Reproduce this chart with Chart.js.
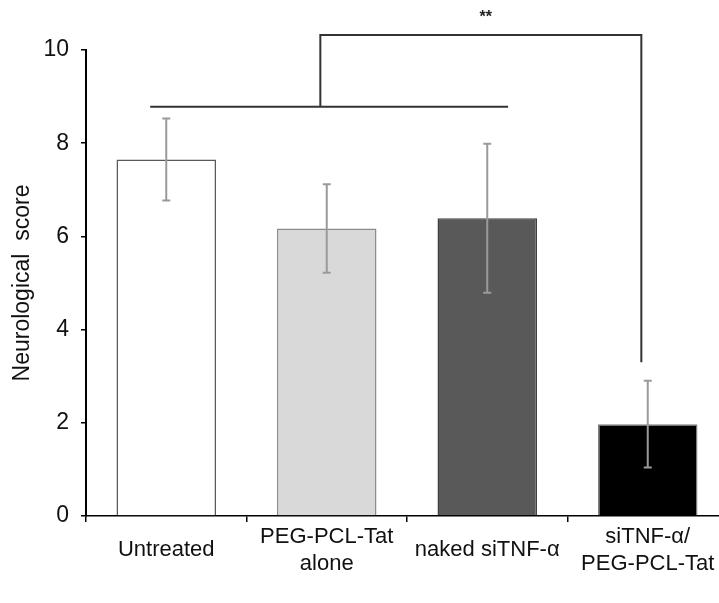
<!DOCTYPE html>
<html>
<head>
<meta charset="utf-8">
<script src="https://cdn.jsdelivr.net/npm/chart.js@4.4.0/dist/chart.umd.min.js"></script>
<style>
  html, body { margin: 0; padding: 0; background: #fff; overflow: hidden; }
  #wrap { width: 730px; height: 603px; }
</style>
</head>
<body>
<div id="wrap"><canvas id="score-chart" width="730" height="603"></canvas></div>
<script>
// Données
const categories = ['Untreated', ['PEG-PCL-Tat', 'alone'], 'naked siTNF-α', ['siTNF-α/', 'PEG-PCL-Tat']];
const means = [7.65, 6.17, 6.39, 1.97];
const errors = [0.88, 0.95, 1.6, 0.93];
const yTicks = [0, 2, 4, 6, 8, 10];

// Crochet de significativité (en unités de l'axe : catégorie, score)
const bracketLow = { from: -0.1, to: 2.13, y: 8.78 };
const bracketHigh = { from: 0.96, to: 2.96, y: 10.32, dropTo: 3.3 };
const starLabel = { text: '**', x: 1.99, y: 10.7 };

const barColors = ['#ffffff', '#d9d9d9', '#595959', '#000000'];
const barBorders = ['#595959', '#8c8c8c', '#404040', '#7f7f7f'];

// Position en pixels pour un index de catégorie fractionnaire
function catPx(xScale, f) {
  const p0 = xScale.getPixelForValue(0);
  const p1 = xScale.getPixelForValue(1);
  return p0 + f * (p1 - p0);
}

// Barres d'erreur + crochet
const overlayPlugin = {
  id: 'overlay',
  afterDatasetsDraw(chart) {
    const ctx = chart.ctx;
    const x = chart.scales.x;
    const y = chart.scales.y;

    ctx.save();
    // Barres d'erreur
    means.forEach((m, i) => {
      const cx = x.getPixelForValue(i);
      const top = y.getPixelForValue(m + errors[i]);
      const bot = y.getPixelForValue(m - errors[i]);
      ctx.strokeStyle = '#9a9a9a';
      ctx.lineWidth = 2;
      ctx.beginPath();
      ctx.moveTo(cx, top);
      ctx.lineTo(cx, bot);
      ctx.moveTo(cx - 4, top);
      ctx.lineTo(cx + 4, top);
      ctx.moveTo(cx - 4, bot);
      ctx.lineTo(cx + 4, bot);
      ctx.stroke();
    });

    // Crochet
    ctx.strokeStyle = '#333333';
    ctx.lineWidth = 2;
    ctx.beginPath();
    const lowY = y.getPixelForValue(bracketLow.y);
    const highY = y.getPixelForValue(bracketHigh.y);
    ctx.moveTo(catPx(x, bracketLow.from), lowY);
    ctx.lineTo(catPx(x, bracketLow.to), lowY);
    ctx.moveTo(catPx(x, bracketHigh.from), lowY);
    ctx.lineTo(catPx(x, bracketHigh.from), highY);
    ctx.lineTo(catPx(x, bracketHigh.to), highY);
    ctx.lineTo(catPx(x, bracketHigh.to), y.getPixelForValue(bracketHigh.dropTo));
    ctx.stroke();

    ctx.fillStyle = '#222';
    ctx.font = 'bold 16px "Liberation Sans", Arial, sans-serif';
    ctx.textAlign = 'center';
    ctx.textBaseline = 'middle';
    ctx.fillText(starLabel.text, catPx(x, starLabel.x), y.getPixelForValue(starLabel.y));
    ctx.restore();
  }
};

function initializeScoreChart(chartId) {
  const canvas = document.getElementById(chartId);
  if (!canvas) return;
  const ctx = canvas.getContext('2d');

  const chart = new Chart(ctx, {
    type: 'bar',
    data: {
      labels: categories,
      datasets: [{
        data: means,
        backgroundColor: barColors,
        borderColor: barBorders,
        borderWidth: 1.5,
        barPercentage: 0.62,
        categoryPercentage: 1
      }]
    },
    options: {
      responsive: false,
      animation: false,
      layout: {
        padding: { top: 50, right: 2, bottom: 0, left: 0 }
      },
      plugins: {
        legend: { display: false },
        tooltip: { enabled: false }
      },
      scales: {
        x: {
          offset: true,
          border: { color: '#000', width: 1.5 },
          grid: {
            offset: true,
            drawOnChartArea: false,
            color: '#000',
            lineWidth: 1.5,
            tickLength: 6
          },
          ticks: {
            color: '#111',
            padding: 15,
            maxRotation: 0,
            autoSkip: false,
            crossAlign: 'center',
            font: { family: '"Liberation Sans", Arial, sans-serif', size: 22, lineHeight: 1.22 }
          },
          afterFit(scale) { scale.height = 87; }
        },
        y: {
          min: 0,
          max: 10,
          afterBuildTicks(scale) {
            scale.ticks = yTicks.map(v => ({ value: v }));
          },
          border: { color: '#000', width: 2 },
          grid: {
            drawOnChartArea: false,
            color: '#000',
            lineWidth: 1.5,
            tickLength: 5
          },
          ticks: {
            color: '#111',
            padding: 12,
            font: { family: '"Liberation Sans", Arial, sans-serif', size: 23 }
          },
          title: {
            display: true,
            text: 'Neurological  score',
            color: '#111',
            padding: { top: 9, bottom: 0 },
            font: { family: '"Liberation Sans", Arial, sans-serif', size: 23 }
          },
          afterFit(scale) { scale.width = 86; }
        }
      }
    },
    plugins: [overlayPlugin]
  });

  canvas.chart = chart;
  return chart;
}

initializeScoreChart('score-chart');
</script>
</body>
</html>
